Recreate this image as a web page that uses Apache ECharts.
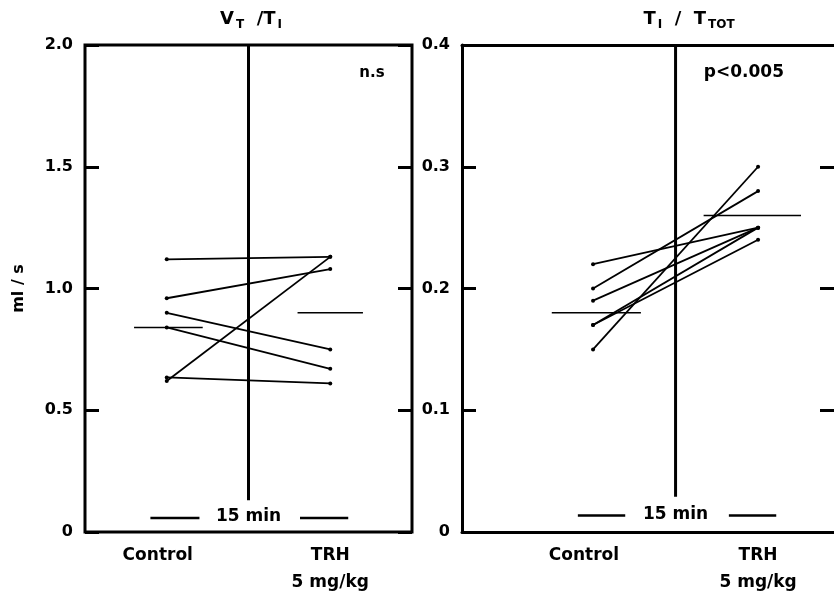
<!DOCTYPE html>
<html><head><meta charset="utf-8">
<script src="https://cdn.jsdelivr.net/npm/echarts@6/dist/echarts.min.js"></script>
<style>html,body{margin:0;padding:0;background:#fff}#c{width:834px;height:596px}</style>
</head><body><div id="c"></div>
<script>
// ---- data ----
const groups = ['Control', 'TRH\n5 mg/kg'];
const groupX = [1, 2];
// Panel 1: VT/TI (ml/s), one line per subject
const vtTiControl = [1.12, 0.96, 0.90, 0.84, 0.62, 0.635];
const vtTiTRH     = [1.13, 1.08, 0.75, 0.67, 1.13, 0.61];
const vtTiMeans   = [0.84, 0.90];
// Panel 2: TI/TTOT
const tiTtotControl = [0.22, 0.20, 0.19, 0.17, 0.17, 0.15];
const tiTtotTRH     = [0.25, 0.28, 0.25, 0.24, 0.25, 0.30];
const tiTtotMeans   = [0.18, 0.26];
const leftTickLabels  = ['0', '0.5', '1.0', '1.5', '2.0'];
const rightTickLabels = ['0', '0.1', '0.2', '0.3', '0.4'];

const FONT = 'DejaVu Sans';
const BLACK = '#000';

function subjectSeries(ctrl, trh, gi) {
  return ctrl.map((c, i) => ({
    type: 'line', xAxisIndex: gi, yAxisIndex: gi * 2,
    data: [[groupX[0], c], [groupX[1], trh[i]]],
    symbol: 'circle', symbolSize: 4, showSymbol: true,
    itemStyle: { color: BLACK }, lineStyle: { color: BLACK, width: 1.8 },
    silent: true, animation: false, z: 3
  }));
}
function segSeries(gi, pts, w) {
  return { type: 'line', xAxisIndex: gi, yAxisIndex: gi * 2, data: pts, symbol: 'none',
    lineStyle: { color: BLACK, width: w }, silent: true, animation: false, z: 2 };
}
function yAxes(gi, max, labels, withName, leftLine) {
  const step = max / 4;
  const base = {
    gridIndex: gi, type: 'value', min: 0, max: max, interval: step,
    axisLine: { show: false }, splitLine: { show: false },
    axisTick: { show: true, inside: true, length: 14, lineStyle: { color: BLACK, width: 3 } }
  };
  const left = Object.assign({}, base, {
    position: 'left',
    axisLine: { show: leftLine, lineStyle: { color: BLACK, width: 3 } },
    axisLabel: { margin: 12, color: BLACK, fontFamily: FONT, fontWeight: 'bold', fontSize: 16,
      formatter: v => labels[Math.round(v / step)] },
  });
  if (withName) {
    Object.assign(left, { name: 'ml / s', nameLocation: 'middle', nameGap: 58, nameRotate: 90,
      nameTextStyle: { color: BLACK, fontFamily: FONT, fontWeight: 'bold', fontSize: 16 } });
  }
  const right = Object.assign({}, base, { position: 'right', axisLabel: { show: false } });
  return [left, right];
}
function xAxis(gi, min, max, line) {
  return {
    gridIndex: gi, type: 'value', min: min, max: max, position: 'bottom',
    axisLine: { show: line, onZero: false, lineStyle: { color: BLACK, width: 3 } },
    axisTick: { show: false }, splitLine: { show: false },
    axisLabel: {
      customValues: [0.945, 2], margin: 10, color: BLACK, fontFamily: FONT, fontWeight: 'bold',
      fontSize: 17, lineHeight: 27, align: 'center',
      formatter: v => (v < 1.5 ? groups[0] : groups[1])
    }
  };
}
const topLine = {
  gridIndex: 1, type: 'value', min: 0, max: 1, position: 'top',
  axisLine: { show: true, onZero: false, lineStyle: { color: BLACK, width: 3 } },
  axisTick: { show: false }, axisLabel: { show: false }, splitLine: { show: false }
};

const titleRich = {
  a: { fontFamily: FONT, fontSize: 18, fontWeight: 'bold', color: BLACK },
  s: { fontFamily: FONT, fontSize: 12, fontWeight: 'bold', color: BLACK, padding: [11, 0, 0, 2] }
};

const option = {
  backgroundColor: '#fff',
  animation: false,
  title: [
    { text: '{a|V}{s|T}{a|  /T}{s|I}', left: 246, top: 3, textAlign: 'center', textStyle: { rich: titleRich } },
    { text: '{a|T}{s|I}{a|  /  T}{s|TOT}', left: 684, top: 3, textAlign: 'center', textStyle: { rich: titleRich } }
  ],
  grid: [
    { left: 85, top: 45, width: 327, height: 487, show: true, borderColor: BLACK, borderWidth: 3, backgroundColor: 'transparent' },
    { left: 462, top: 45, right: 0, height: 487, show: false }
  ],
  xAxis: [xAxis(0, 0.5, 2.5, false), xAxis(1, 0.206, 2.46, true), topLine],
  yAxis: [].concat(yAxes(0, 2, leftTickLabels, true, false), yAxes(1, 0.4, rightTickLabels, false, true)),
  series: [].concat(
    subjectSeries(vtTiControl, vtTiTRH, 0),
    subjectSeries(tiTtotControl, tiTtotTRH, 1),
    [
      segSeries(0, [[0.8, vtTiMeans[0]], [1.22, vtTiMeans[0]]], 1.5),
      segSeries(0, [[1.8, vtTiMeans[1]], [2.2, vtTiMeans[1]]], 1.5),
      segSeries(1, [[0.75, tiTtotMeans[0]], [1.29, tiTtotMeans[0]]], 1.5),
      segSeries(1, [[1.67, tiTtotMeans[1]], [2.26, tiTtotMeans[1]]], 1.5),
      segSeries(0, [[1.5, 0.13], [1.5, 2]], 3),
      segSeries(1, [[1.5, 0.029], [1.5, 0.4]], 3)
    ]
  )
};

const chart = echarts.init(document.getElementById('c'), null, { renderer: 'canvas' });
chart.setOption(option);

// annotations positioned through the axes
const px = (gi, x, y) => chart.convertToPixel({ xAxisIndex: gi, yAxisIndex: gi * 2 }, [x, y]);
function txt(gi, x, y, s, size) {
  const p = px(gi, x, y);
  return { type: 'text', x: p[0], y: p[1], silent: true, z: 10,
    style: { text: s, fill: BLACK, font: 'bold ' + size + 'px "' + FONT + '"', textAlign: 'center', textVerticalAlign: 'middle' } };
}
function dash(gi, x1, x2, y) {
  const a = px(gi, x1, y), b = px(gi, x2, y);
  return { type: 'line', silent: true, z: 10, shape: { x1: a[0], y1: a[1], x2: b[0], y2: b[1] },
    style: { stroke: BLACK, lineWidth: 2.5 } };
}
chart.setOption({
  graphic: [
    txt(0, 2.255, 1.885, 'n.s', 15),
    txt(1, 1.914, 0.377, 'p<0.005', 17),
    txt(0, 1.5, 0.062, '15 min', 17),
    txt(1, 1.5, 0.0145, '15 min', 17),
    dash(0, 0.9, 1.2, 0.057), dash(0, 1.815, 2.11, 0.057),
    dash(1, 0.908, 1.195, 0.0135), dash(1, 1.823, 2.11, 0.0135)
  ]
});
</script>
</body></html>
